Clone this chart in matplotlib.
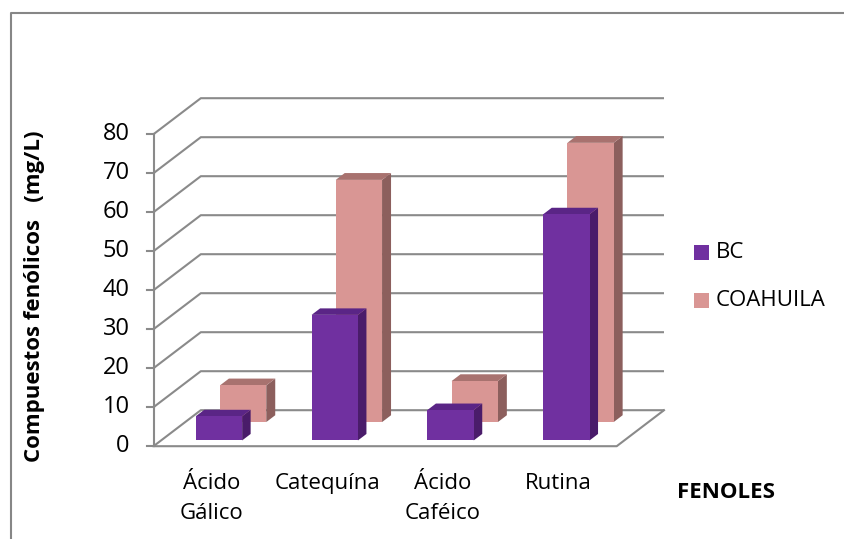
import matplotlib
matplotlib.use("Agg")
import matplotlib.pyplot as plt
from matplotlib.patches import Polygon, Rectangle
from matplotlib.lines import Line2D

# ---- data ----
categories = ["Ácido\nGálico", "Catequína", "Ácido\nCaféico", "Rutina"]
series_names = ["BC", "COAHUILA"]
bc_values = [6.2, 32.2, 7.8, 58.0]
coahuila_values = [9.4, 62.1, 10.5, 71.6]
y_ticks = [0, 10, 20, 30, 40, 50, 60, 70, 80]
y_title = "Compuestos fenólicos   (mg/L)"
x_title = "FENOLES"

# ---- style / layout ----
W, H = 844, 539
FONT = "Open Sans"
FS = 16
GRID = "#8a8a8a"
front_cols = {"BC": "#7030A0", "COAHUILA": "#D99694"}
top_cols = {"BC": "#5A2586", "COAHUILA": "#A8726F"}
side_cols = {"BC": "#4A1C6A", "COAHUILA": "#8C5F5D"}

px_per_cat = 115.8
px_per_val = 3.9
x0_px = 153.5
y0_px = 446.2
DX = 47.3 / px_per_cat      # depth offset in category units
DY = 36.0 / px_per_val      # depth offset in value units
depths = {"BC": (0.16, 0.34), "COAHUILA": (0.67, 0.86)}
bar_w = 0.40

fig = plt.figure(figsize=(W / 100, H / 100), dpi=100)
ax = fig.add_axes([0, 0, 1, 1])
ax.set_xlim(-x0_px / px_per_cat, (W - x0_px) / px_per_cat)
ax.set_ylim(-(H - y0_px) / px_per_val, y0_px / px_per_val)
ax.axis("off")

n = len(categories)
ymax = y_ticks[-1]

def P(x, v, d):
    return (x + d * DX, v + d * DY)

# back wall gridlines and side wall diagonals
for t in y_ticks:
    xs, ys = zip(P(0, t, 0), P(0, t, 1), P(n, t, 1))
    ax.plot(xs, ys, color=GRID, lw=1.5, zorder=1, solid_capstyle="butt")
    # tick mark
    ax.plot([-7 / px_per_cat, 0], [t, t], color=GRID, lw=1.5, zorder=1)
    ax.text(-24 / px_per_cat, t, str(t), ha="right", va="center",
            fontsize=FS + 1, family=FONT, color="#000000")

# front vertical axis
ax.plot([0, 0], [0, ymax], color=GRID, lw=1.5, zorder=1)
# floor
xs, ys = zip(P(0, 0, 0), P(n, 0, 0), P(n, 0, 1))
ax.plot(xs, ys, color=GRID, lw=1.5, zorder=1)

def draw_bar(i, v, name):
    d0, d1 = depths[name]
    xl = i + 0.5 - bar_w / 2
    xr = xl + bar_w
    front = [P(xl, 0, d0), P(xr, 0, d0), P(xr, v, d0), P(xl, v, d0)]
    top = [P(xl, v, d0), P(xr, v, d0), P(xr, v, d1), P(xl, v, d1)]
    side = [P(xr, 0, d0), P(xr, 0, d1), P(xr, v, d1), P(xr, v, d0)]
    z = 3 if name == "COAHUILA" else 5
    ax.add_patch(Polygon(side, closed=True, fc=side_cols[name], ec="none", zorder=z))
    ax.add_patch(Polygon(top, closed=True, fc=top_cols[name], ec="none", zorder=z))
    ax.add_patch(Polygon(front, closed=True, fc=front_cols[name], ec="none", zorder=z + 1))

for i, v in enumerate(coahuila_values):
    draw_bar(i, v, "COAHUILA")
for i, v in enumerate(bc_values):
    draw_bar(i, v, "BC")

# category labels
for i, c in enumerate(categories):
    ax.text(i + 0.5, -27 / px_per_val, c, ha="center", va="top",
            fontsize=FS, family=FONT, linespacing=1.55)

# axis titles
fig.text(35 / W, 1 - 296.5 / H, y_title, rotation=90, ha="center", va="center",
         fontsize=FS, family=FONT, fontweight="bold")
fig.text(726 / W, 1 - 492 / H, x_title, ha="center", va="center",
         fontsize=FS, family=FONT, fontweight="bold")

# legend
for k, (name, yc) in enumerate(zip(series_names, [252.5, 300.3])):
    fig.patches.append(Rectangle((694.3 / W, 1 - (yc + 7.5) / H), 15 / W, 15 / H,
                                 transform=fig.transFigure, fc=front_cols[name],
                                 ec="none", figure=fig))
    fig.text(716 / W, 1 - yc / H, name, ha="left", va="center",
             fontsize=FS, family=FONT)

# chart border (left and top visible)
fig.add_artist(Line2D([11 / W, 11 / W, 1.0], [0, 1 - 13 / H, 1 - 13 / H],
                      transform=fig.transFigure, color="#868686", lw=1.5))

fig.savefig("out.png", dpi=100)
